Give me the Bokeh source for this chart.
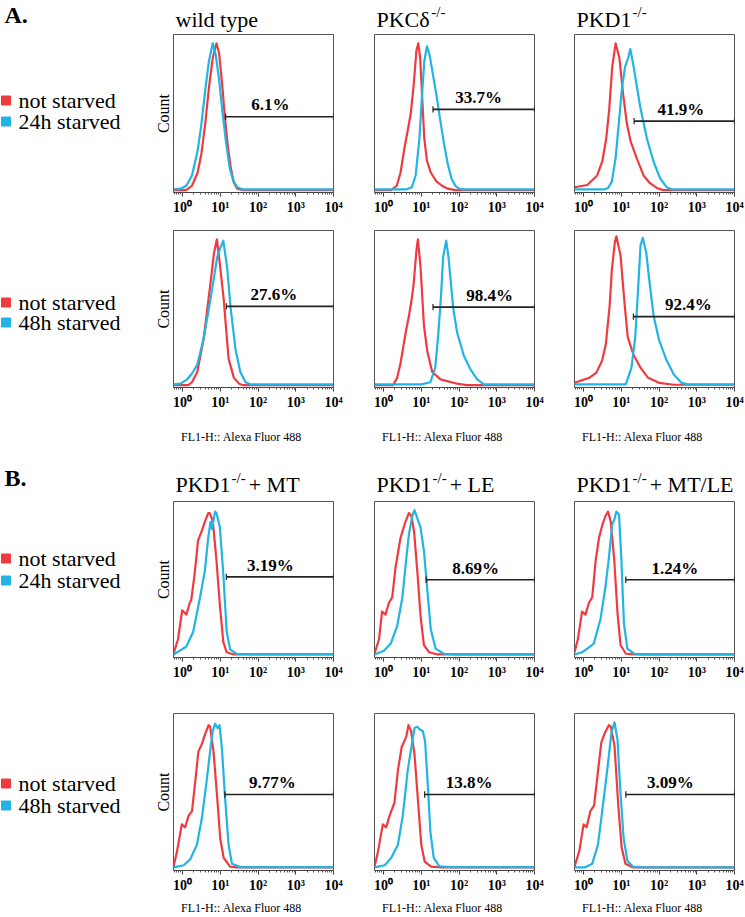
import numpy as np
from bokeh.plotting import figure
from bokeh.models import Range1d, CustomJSTickFormatter
from bokeh.layouts import column, row
from bokeh.core.properties import value
from bokeh.embed import file_html
from bokeh.resources import INLINE

FONT = "Liberation Serif"
RED = "#ef3b40"
CYAN = "#21b4e4"

# ---------------- data: log10(FL1-H) and count (% of mode) ----------------
# Panel A, top row: not starved vs 24h starved
WT24_NS_X = [-0.24, 0.10, 0.25, 0.40, 0.50, 0.60, 0.70, 0.80, 0.90, 0.97, 1.05, 1.12, 1.20, 1.28, 1.36, 1.45, 1.60, 4.00]
WT24_NS_Y = [0, 0, 3, 12, 25, 45, 70, 90, 100, 93, 72, 50, 30, 15, 5, 1, 0, 0]
WT24_ST_X = [-0.24, -0.05, 0.10, 0.25, 0.40, 0.50, 0.60, 0.70, 0.80, 0.88, 0.97, 1.05, 1.15, 1.25, 1.35, 1.45, 1.60, 4.00]
WT24_ST_Y = [0.5, 1, 3, 10, 27, 45, 68, 88, 100, 92, 75, 55, 33, 15, 6, 2, 0.5, 0.5]

PKCD24_NS_X = [-0.24, 0.20, 0.35, 0.45, 0.55, 0.65, 0.72, 0.80, 0.87, 0.92, 0.97, 1.03, 1.08, 1.15, 1.25, 1.40, 1.55, 1.70, 1.90, 4.00]
PKCD24_NS_Y = [0, 0, 3, 12, 28, 42, 52, 72, 95, 100, 90, 60, 35, 20, 12, 6, 3, 1, 0, 0]
PKCD24_ST_X = [-0.24, 0.60, 0.75, 0.85, 0.95, 1.02, 1.08, 1.15, 1.22, 1.30, 1.40, 1.50, 1.60, 1.70, 1.80, 1.90, 2.00, 2.10, 4.00]
PKCD24_ST_Y = [0.5, 0.5, 2, 10, 35, 65, 88, 98, 92, 80, 65, 48, 32, 18, 8, 3, 1, 0.5, 0.5]

PKD124_NS_X = [-0.24, 0.10, 0.36, 0.50, 0.60, 0.68, 0.76, 0.85, 0.95, 1.05, 1.15, 1.25, 1.42, 1.59, 1.75, 1.94, 2.10, 4.00]
PKD124_NS_Y = [2, 3.5, 10, 20, 35, 55, 84, 100, 90, 65, 45, 33, 21, 10, 5, 1.5, 0, 0]
PKD124_ST_X = [-0.24, 0.55, 0.65, 0.75, 0.85, 0.95, 1.02, 1.10, 1.18, 1.24, 1.32, 1.50, 1.68, 1.86, 2.03, 2.20, 2.35, 4.00]
PKD124_ST_Y = [0.5, 0.5, 1.5, 6, 22, 50, 70, 84, 90, 96, 85, 57, 35, 19, 8, 2, 0.5, 0.5]

# Panel A, bottom row: not starved vs 48h starved
WT48_NS_X = [-0.24, 0.15, 0.25, 0.39, 0.56, 0.74, 0.83, 0.91, 0.98, 1.09, 1.22, 1.36, 1.50, 1.61, 4.00]
WT48_NS_Y = [0, 0, 2, 9, 32, 70, 90, 100, 85, 59, 18, 5, 1, 0, 0]
WT48_ST_X = [-0.24, -0.05, 0.12, 0.25, 0.39, 0.56, 0.74, 0.92, 1.00, 1.08, 1.18, 1.27, 1.40, 1.53, 1.67, 1.80, 4.00]
WT48_ST_Y = [0.5, 1, 4, 8, 14, 32, 59, 88, 94, 99, 81, 54, 25, 9, 2, 0.5, 0.5]

PKCD48_NS_X = [-0.24, 0.25, 0.36, 0.45, 0.54, 0.60, 0.67, 0.74, 0.80, 0.87, 0.91, 0.98, 1.07, 1.16, 1.29, 1.51, 1.95, 2.20, 4.00]
PKCD48_NS_Y = [0, 0, 5, 15, 29, 38, 47, 58, 70, 92, 100, 81, 41, 23, 9, 4, 1, 0, 0]
PKCD48_ST_X = [-0.24, 1.00, 1.24, 1.37, 1.45, 1.52, 1.58, 1.66, 1.72, 1.77, 1.85, 1.95, 2.13, 2.30, 2.48, 2.66, 4.00]
PKCD48_ST_Y = [0.5, 0.5, 2, 12, 35, 60, 88, 99, 88, 74, 52, 36, 20, 11, 4, 0.5, 0.5]

PKD148_NS_X = [-0.24, 0.15, 0.34, 0.49, 0.59, 0.69, 0.75, 0.83, 0.87, 0.98, 1.08, 1.17, 1.32, 1.51, 1.71, 2.00, 2.39, 4.00]
PKD148_NS_Y = [1.6, 5, 8.6, 16.7, 28, 54, 79, 98, 102, 89, 58, 33, 21, 12, 5, 1.6, 0.3, 0.3]
PKD148_ST_X = [-0.24, 1.12, 1.27, 1.37, 1.45, 1.51, 1.57, 1.66, 1.76, 1.86, 2.00, 2.20, 2.39, 2.59, 2.78, 4.00]
PKD148_ST_Y = [0.5, 0.5, 12, 33, 68, 96, 101, 91, 68, 47, 31, 17, 7.4, 1.6, 0.5, 0.5]

# Panel B, top row: not starved vs 24h starved
MT24_NS_X = [-0.24, -0.12, -0.01, 0.10, 0.19, 0.23, 0.32, 0.41, 0.50, 0.59, 0.68, 0.72, 0.78, 0.81, 0.90, 0.99, 1.08, 1.17, 1.35, 4.00]
MT24_NS_Y = [1, 11, 31, 28, 36, 38, 56, 79, 85, 92, 98, 98, 94, 90, 65, 34, 9, 2, 0.5, 0.5]
MT24_ST_X = [-0.24, -0.08, 0.10, 0.28, 0.45, 0.59, 0.68, 0.74, 0.78, 0.86, 0.90, 0.99, 1.08, 1.17, 1.26, 1.43, 1.70, 4.00]
MT24_ST_Y = [0.5, 3, 6, 16, 38, 58, 81, 92, 87, 99, 98, 88, 56, 16, 4, 1, 0.7, 0.7]

LE24_NS_X = [-0.24, -0.12, -0.04, 0.05, 0.14, 0.23, 0.32, 0.45, 0.58, 0.67, 0.74, 0.81, 0.90, 0.98, 1.07, 1.21, 1.43, 4.00]
LE24_NS_Y = [1, 11, 30, 28, 36, 40, 61, 81, 92, 98, 96, 85, 56, 27, 7, 2, 0.5, 0.5]
LE24_ST_X = [-0.24, 0.01, 0.19, 0.36, 0.50, 0.58, 0.67, 0.76, 0.82, 0.90, 0.98, 1.07, 1.16, 1.25, 1.38, 1.60, 1.96, 4.00]
LE24_ST_Y = [0.5, 3, 8, 20, 40, 61, 83, 96, 100, 94, 88, 72, 45, 18, 4.5, 1, 0.5, 0.5]

MTLE24_NS_X = [-0.24, -0.15, -0.04, 0.05, 0.14, 0.23, 0.32, 0.41, 0.50, 0.58, 0.65, 0.72, 0.81, 0.90, 0.98, 1.12, 1.34, 4.00]
MTLE24_NS_Y = [2, 11, 30, 28, 36, 40, 65, 81, 90, 96, 99, 92, 67, 29, 7, 1, 0.5, 0.5]
MTLE24_ST_X = [-0.24, -0.04, 0.10, 0.27, 0.45, 0.58, 0.67, 0.76, 0.82, 0.87, 0.94, 1.00, 1.07, 1.16, 1.34, 1.60, 4.00]
MTLE24_ST_Y = [0.5, 2, 4.5, 8, 25, 47, 67, 90, 94, 99, 97, 67, 22, 4.5, 1, 0.5, 0.5]

# Panel B, bottom row: not starved vs 48h starved
MT48_NS_X = [-0.24, -0.15, -0.02, 0.07, 0.16, 0.25, 0.33, 0.42, 0.51, 0.60, 0.69, 0.73, 0.82, 0.91, 1.00, 1.09, 1.26, 1.44, 4.00]
MT48_NS_Y = [1, 11, 30, 28, 36, 39, 58, 80, 85, 92, 98, 97, 80, 51, 20, 7, 1, 0.5, 0.5]
MT48_ST_X = [-0.24, 0.03, 0.20, 0.38, 0.51, 0.64, 0.73, 0.80, 0.86, 0.93, 0.98, 1.04, 1.13, 1.22, 1.31, 1.53, 4.00]
MT48_ST_Y = [0.5, 2, 6, 16, 34, 60, 80, 94, 99, 96, 98, 83, 47, 16, 3, 0.7, 0.7]

LE48_NS_X = [-0.24, -0.15, -0.02, 0.07, 0.16, 0.29, 0.38, 0.48, 0.60, 0.66, 0.73, 0.82, 0.91, 1.00, 1.09, 1.26, 1.53, 4.00]
LE48_NS_Y = [1, 11, 30, 28, 36, 45, 67, 83, 90, 98, 94, 78, 47, 16, 4.5, 1, 0.5, 0.5]
LE48_ST_X = [-0.24, 0.03, 0.20, 0.38, 0.51, 0.64, 0.75, 0.82, 0.89, 0.96, 1.04, 1.10, 1.17, 1.24, 1.33, 1.48, 1.79, 4.00]
LE48_ST_Y = [0.5, 2, 7, 16, 36, 67, 85, 96, 97, 95, 94, 87, 58, 25, 7, 1.3, 0.7, 0.7]

MTLE48_NS_X = [-0.24, -0.11, 0.00, 0.08, 0.18, 0.28, 0.38, 0.47, 0.57, 0.67, 0.72, 0.82, 0.92, 1.01, 1.11, 1.31, 4.00]
MTLE48_NS_Y = [1, 12, 30, 28, 39, 43, 66, 86, 93, 98, 97, 84, 43, 14, 3, 0.5, 0.5]
MTLE48_ST_X = [-0.24, 0.03, 0.23, 0.38, 0.47, 0.57, 0.67, 0.74, 0.82, 0.90, 0.97, 1.06, 1.16, 1.31, 1.60, 4.00]
MTLE48_ST_Y = [0.5, 0.5, 3, 16, 34, 55, 77, 93, 100, 88, 55, 21, 5, 1, 0.5, 0.5]

# gates (log10 start of marker, marker height) and percentages
A24_GATE_X = [1.14, 1.31, 1.34]
A24_GATE_Y = [50, 55, 47]
A24_PCT = ["6.1%", "33.7%", "41.9%"]
A48_GATE_X = [1.16, 1.31, 1.32]
A48_GATE_Y = [54, 53.5, 47]
A48_PCT = ["27.6%", "98.4%", "92.4%"]
B24_GATE_X = [1.16, 1.13, 1.12]
B24_GATE_Y = [54, 52, 52]
B24_PCT = ["3.19%", "8.69%", "1.24%"]
B48_GATE_X = [1.12, 1.09, 1.12]
B48_GATE_Y = [50.5, 50.5, 50.5]
B48_PCT = ["9.77%", "13.8%", "3.09%"]

TITLES_A = [("wild type", "", ""), ("PKC\u03b4", "-/-", ""), ("PKD1", "-/-", "")]
TITLES_B = [("PKD1", "-/-", "+ MT"), ("PKD1", "-/-", "+ LE"), ("PKD1", "-/-", "+ MT/LE")]
LEGEND_24 = ["not starved", "24h starved"]
LEGEND_48 = ["not starved", "48h starved"]
XLABEL = "FL1-H:: Alexa Fluor 488"
YLABEL = "Count"

# ---------------- layout constants (pixels) ----------------
XMIN, XMAX = -0.24, 4.0
YMIN, YMAX = -1.6, 106
FRAME_W = 160
LEG_W = 172
TOTAL_W = 745
BORDERS = [(1, 20), (21, 20), (20, 11)]           # (left, right) of each histogram figure
FRAME_LEFTS = [173, 374, 574]
LABEL_LX = {"A24": [2.33, 2.52, 2.58], "A48": [2.42, 2.81, 2.78],
            "B24": [2.33, 2.44, 2.42], "B48": [2.38, 2.27, 2.30]}

TW = {"P": .556, "K": .722, "C": .667, "D": .722, "1": .5, "\u03b4": .5, "-": .333, "/": .278,
      "+": .564, " ": .25, "M": .889, "T": .611, "L": .611, "E": .611}


def tw(s, px):
    return sum(TW.get(c, .5) for c in s) * px


sup_fmt = CustomJSTickFormatter(code="""
const s = ['\u2070', '\u00b9', '\u00b2', '\u00b3', '\u2074'];
const e = Math.round(Math.log10(tick));
return (e >= 0 && e < 5) ? '10' + s[e] : '';
""")


def blank(w, h, y_top, y_bottom, top=0, bottom=0):
    # y range expressed directly in page pixels (top -> bottom)
    p = figure(width=w, height=h, x_range=Range1d(0, w), y_range=Range1d(y_bottom, y_top),
               x_axis_location=None, y_axis_location=None, toolbar_location=None,
               output_backend="svg", title=None,
               min_border_left=0, min_border_right=0, min_border_top=top, min_border_bottom=bottom)
    p.outline_line_color = None
    p.grid.visible = False
    return p


def txt(p, x, y, s, size, style="normal", align="left", angle=0.0):
    p.text(x=[x], y=[y], text=[s], text_font=value(FONT), text_font_size=f"{size}px",
           text_font_style=style, text_align=align, text_baseline="middle",
           text_color="black", angle=angle)


def hist(ns_x, ns_y, st_x, st_y, gx, gy, pct, llx, col, top, bottom, height):
    left, right = BORDERS[col]
    p = figure(width=left + FRAME_W + right, height=height, x_axis_type="log",
               x_range=Range1d(10 ** XMIN, 10 ** XMAX), y_range=Range1d(YMIN, YMAX),
               toolbar_location=None, output_backend="svg", y_axis_location=None, title=None,
               min_border_left=left, min_border_right=right,
               min_border_top=top, min_border_bottom=bottom)
    p.grid.visible = False
    p.outline_line_color = "#555555"
    p.outline_line_width = 1
    ax = p.xaxis[0]
    ax.formatter = sup_fmt
    ax.axis_line_color = "#444444"
    ax.major_tick_line_color = "#333333"
    ax.minor_tick_line_color = "#555555"
    ax.major_tick_in = 0
    ax.major_tick_out = 4
    ax.minor_tick_in = 0
    ax.minor_tick_out = 2
    ax.major_label_standoff = 3
    ax.major_label_text_font = FONT
    ax.major_label_text_font_size = "14px"
    ax.major_label_text_font_style = "bold"
    ax.major_label_text_color = "black"

    p.line(10 ** np.array(ns_x), ns_y, line_color=RED, line_width=2.2, line_join="round")
    p.line(10 ** np.array(st_x), st_y, line_color=CYAN, line_width=2.2, line_join="round")

    g0 = 10 ** gx
    g1 = 10 ** XMAX
    p.segment(x0=[g0], y0=[gy], x1=[g1], y1=[gy], line_color="#222222", line_width=1.6)
    p.segment(x0=[g0, g1], y0=[gy - 2.2, gy - 2.2], x1=[g0, g1], y1=[gy + 2.2, gy + 2.2],
              line_color="#222222", line_width=1.2)
    p.text(x=[10 ** llx], y=[gy + 8], text=[pct], text_font=value(FONT), text_font_size="17px",
           text_font_style="bold", text_align="center", text_baseline="middle", text_color="black")
    return p


def legend_fig(row_top, top, fh, bottom, items, y_items):
    height = top + fh + bottom
    p = blank(LEG_W, height, row_top + top, row_top + top + fh, top=top, bottom=bottom)
    for lab, yc, c in zip(items, y_items, [RED, CYAN]):
        p.scatter(x=[5.5], y=[yc], marker="square", size=9, fill_color=c, line_color=c)
        txt(p, 18, yc, lab, 22)
    txt(p, 163, row_top + top + fh / 2.0, YLABEL, 16, align="center", angle=np.pi / 2)
    return p


def title_strip(y0, h, label, label_y, titles, title_y, sup_y):
    p = blank(TOTAL_W, h, y0, y0 + h)
    txt(p, 4, label_y, label, 24, style="bold")
    for fl, (base, sup, tail) in zip(FRAME_LEFTS, titles):
        x0 = fl + 2
        txt(p, x0, title_y, base, 22)
        if sup:
            xs = x0 + tw(base, 22) + 1
            txt(p, xs, sup_y, sup, 15)
            if tail:
                xt = xs + tw(sup, 15) + 3
                txt(p, xt, title_y, tail, 22)
    return p


def xlabel_strip(y0, h, y):
    p = blank(TOTAL_W, h, y0, y0 + h)
    for fl in FRAME_LEFTS:
        txt(p, fl + 68, y, XLABEL, 12, align="center")
    return p


def hist_row(data, key, gates_x, gates_y, pcts, row_top, top, fh, bottom, legend, y_items):
    height = top + fh + bottom
    figs = [legend_fig(row_top, top, fh, bottom, legend, y_items)]
    for i, (nsx, nsy, stx, sty) in enumerate(data):
        figs.append(hist(nsx, nsy, stx, sty, gates_x[i], gates_y[i], pcts[i],
                         LABEL_LX[key][i], i, top, bottom, height))
    return row(*figs)


stripA = title_strip(0, 33, "A.", 14, TITLES_A, 19, 11.5)
rowA1 = hist_row([(WT24_NS_X, WT24_NS_Y, WT24_ST_X, WT24_ST_Y),
                  (PKCD24_NS_X, PKCD24_NS_Y, PKCD24_ST_X, PKCD24_ST_Y),
                  (PKD124_NS_X, PKD124_NS_Y, PKD124_ST_X, PKD124_ST_Y)],
                 "A24", A24_GATE_X, A24_GATE_Y, A24_PCT, 33, 1, 158, 26,
                 LEGEND_24, [100, 121])
rowA2 = hist_row([(WT48_NS_X, WT48_NS_Y, WT48_ST_X, WT48_ST_Y),
                  (PKCD48_NS_X, PKCD48_NS_Y, PKCD48_ST_X, PKCD48_ST_Y),
                  (PKD148_NS_X, PKD148_NS_Y, PKD148_ST_X, PKD148_ST_Y)],
                 "A48", A48_GATE_X, A48_GATE_Y, A48_PCT, 218, 12, 157, 30,
                 LEGEND_48, [302, 322])
xA = xlabel_strip(417, 35, 436)
stripB = title_strip(452, 48, "B.", 477, TITLES_B, 484, 477.5)
rowB1 = hist_row([(MT24_NS_X, MT24_NS_Y, MT24_ST_X, MT24_ST_Y),
                  (LE24_NS_X, LE24_NS_Y, LE24_ST_X, LE24_ST_Y),
                  (MTLE24_NS_X, MTLE24_NS_Y, MTLE24_ST_X, MTLE24_ST_Y)],
                 "B24", B24_GATE_X, B24_GATE_Y, B24_PCT, 500, 1, 156, 30,
                 LEGEND_24, [558, 580])
rowB2 = hist_row([(MT48_NS_X, MT48_NS_Y, MT48_ST_X, MT48_ST_Y),
                  (LE48_NS_X, LE48_NS_Y, LE48_ST_X, LE48_ST_Y),
                  (MTLE48_NS_X, MTLE48_NS_Y, MTLE48_ST_X, MTLE48_ST_Y)],
                 "B48", B48_GATE_X, B48_GATE_Y, B48_PCT, 687, 26, 157, 25,
                 LEGEND_48, [783, 805])
xB = xlabel_strip(895, 22, 907)

layout = column(stripA, rowA1, rowA2, xA, stripB, rowB1, rowB2, xB)

with open("out.html", "w") as f:
    f.write(file_html(layout, INLINE))
